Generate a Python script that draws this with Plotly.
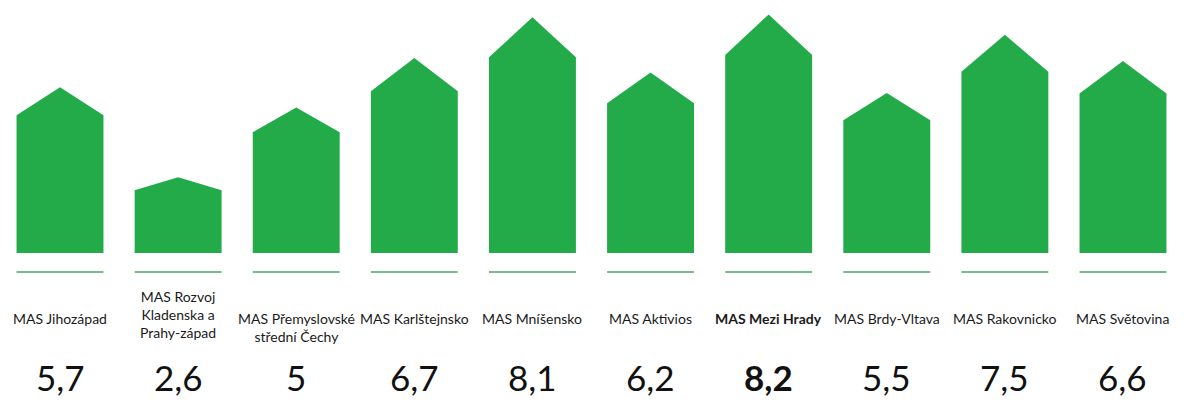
import plotly.graph_objects as go

categories = ["MAS Jihozápad", "MAS Rozvoj<br>Kladenska a<br>Prahy-západ", "MAS Přemyslovské<br>střední Čechy",
              "MAS Karlštejnsko", "MAS Mníšensko", "MAS Aktivios", "MAS Mezi Hrady", "MAS Brdy-Vltava",
              "MAS Rakovnicko", "MAS Světovina"]
values = [5.7, 2.6, 5.0, 6.7, 8.1, 6.2, 8.2, 5.5, 7.5, 6.6]
value_labels = ["5,7", "2,6", "5", "6,7", "8,1", "6,2", "8,2", "5,5", "7,5", "6,6"]
highlight = "MAS Mezi Hrady"

GREEN = "#23ab4a"
LINE_GREEN = "#45aa62"
W = 1190
H = 403
PX_PER_UNIT = 29.1
BASE_PX = 253  # pixel row of y=0 from top
y_top = BASE_PX / PX_PER_UNIT
y_bot = -(H - BASE_PX) / PX_PER_UNIT

def py(px):
    """pixel row -> data y"""
    return (BASE_PX - px) / PX_PER_UNIT

half = 0.368
roof_frac = 0.17

fig = go.Figure()
for i, (c, v) in enumerate(zip(categories, values)):
    shoulder = v * (1 - roof_frac)
    xs = [i - half, i - half, i, i + half, i + half, i - half]
    ys = [0, shoulder, v, shoulder, 0, 0]
    fig.add_trace(go.Scatter(x=xs, y=ys, mode="lines", fill="toself", fillcolor=GREEN,
                             line=dict(color=GREEN, width=0), hoverinfo="skip", showlegend=False))
    # thin underline
    fig.add_trace(go.Scatter(x=[i - half, i + half], y=[py(272)] * 2, mode="lines",
                             line=dict(color=LINE_GREEN, width=1.5), hoverinfo="skip", showlegend=False))

annotations = []
for i, (c, lab) in enumerate(zip(categories, value_labels)):
    bold = c == highlight
    n = c.count("<br>") + 1
    first_idx = 1 if n == 3 else 0
    top_px = 318 - 10 - first_idx * 22.5
    txt = f"<b>{c}</b>" if bold else c
    annotations.append(dict(x=i, y=py(top_px), xref="x", yref="y", text=txt, showarrow=False,
                            yanchor="top", xanchor="center", align="center",
                            font=dict(family="Lato", size=14, color="#1a1a1a")))
    vt = f"<b>{lab}</b>" if bold else lab
    annotations.append(dict(x=i, y=py(377), xref="x", yref="y", text=vt, showarrow=False,
                            yanchor="middle", xanchor="center",
                            font=dict(family="Lato", size=35, color="#111111")))

fig.update_layout(
    width=W, height=H,
    margin=dict(l=0, r=0, t=0, b=0, autoexpand=False),
    paper_bgcolor="white", plot_bgcolor="white",
    xaxis=dict(range=[-60 / 118.1, 9 + (W - 1123) / 118.1], visible=False, fixedrange=True),
    yaxis=dict(range=[y_bot, y_top], visible=False, fixedrange=True),
    annotations=annotations,
    showlegend=False,
)

fig.write_html("out.html", config={"displayModeBar": False},
               post_script="document.body.style.margin='0';document.body.style.overflow='hidden';")
